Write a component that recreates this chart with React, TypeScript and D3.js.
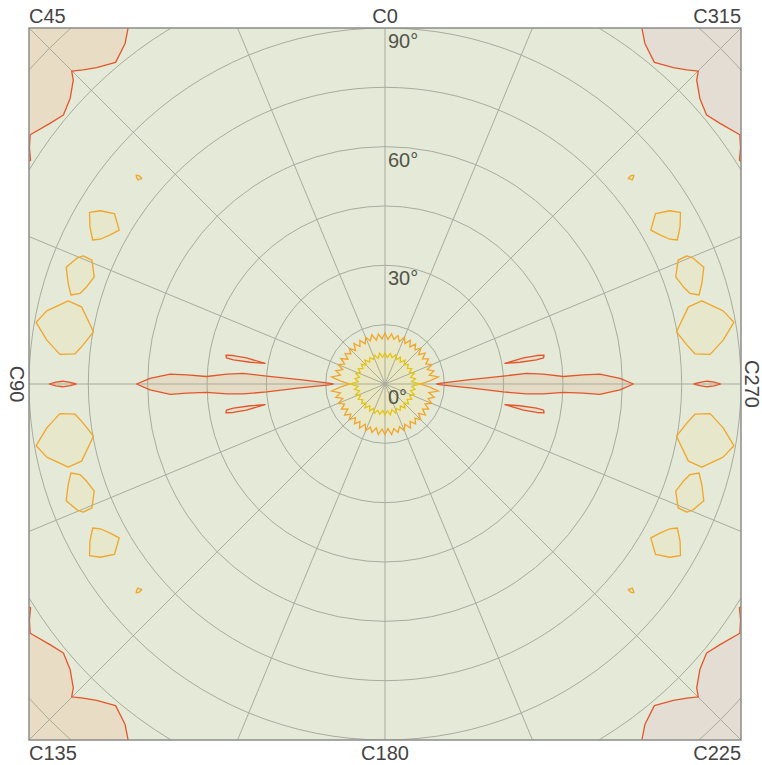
import React from "react";
import * as d3 from "d3";

const W = 762;
const H = 765;
const CX = 385;
const CY = 384;
const R = 356;

// ---- axis / grid data ----
const gammaTickLabels = [0, 30, 60, 90];
const gridGammas = [15, 30, 45, 60, 75, 90, 105, 120];
const gridCAngles = [0, 22.5, 45, 67.5, 90, 112.5, 135, 157.5, 180, 202.5, 225, 247.5, 270, 292.5, 315, 337.5];
const cPlaneLabels = ["C0", "C45", "C90", "C135", "C180", "C225", "C270", "C315"];

// ---- central isolines (gamma in degrees, evenly spaced C-planes) ----
const outerStarGamma = [
  12.9, 11.4, 12.7, 11.3, 12.9, 11.5, 12.8, 11.3, 12.7, 11.4, 12.9, 11.3, 12.8, 11.5, 12.7, 11.3, 12.9, 11.4, 12.8, 11.3, 12.9, 11.5, 13.6, 11.2,
  8.9,
  11.2, 13.6, 11.5, 12.9, 11.3, 12.8, 11.4, 12.7, 11.3, 12.9, 11.5, 12.8, 11.3, 12.7, 11.4, 12.9, 11.3, 12.8, 11.5, 12.7, 11.3, 12.9, 11.4,
  12.8, 11.3, 12.9, 11.5, 12.7, 11.4, 12.8, 11.3, 12.9, 11.4, 12.7, 11.5, 12.8, 11.3, 12.9, 11.4, 12.7, 11.3, 12.8, 11.5, 12.9, 11.3, 13.6, 11.2,
  8.9,
  11.2, 13.6, 11.4, 12.8, 11.3, 12.9, 11.5, 12.7, 11.4, 12.8, 11.3, 12.9, 11.5, 12.7, 11.3, 12.8, 11.4, 12.9, 11.3, 12.7, 11.5, 12.8, 11.3,
];
const innerStarGamma = [
  7.8, 6.8, 7.9, 6.7, 7.8, 6.9, 7.7, 6.8, 7.9, 6.7, 7.8, 6.8, 7.8, 6.9, 7.9, 6.7, 7.7, 6.8, 8.8, 6.8, 7.8, 6.7, 7.9, 6.8, 7.8, 6.9, 7.7, 6.8, 7.9, 6.7, 7.8, 6.8, 7.9, 6.9, 7.8, 6.7,
  7.8, 6.8, 7.9, 6.7, 7.8, 6.9, 7.7, 6.8, 7.9, 6.7, 7.8, 6.8, 7.8, 6.9, 7.9, 6.7, 7.7, 6.8, 8.8, 6.8, 7.8, 6.7, 7.9, 6.8, 7.8, 6.9, 7.7, 6.8, 7.9, 6.7, 7.8, 6.8, 7.9, 6.9, 7.8, 6.7,
];

// ---- isolines in projected degrees [horizontal, vertical] ----
const lobeLeft = [
  [-62.8, 0], [-59.4, 1.4], [-54.3, 2.5], [-50.1, 2.3], [-45.1, 1.9], [-40.0, 2.5], [-35.8, 2.7], [-29.9, 2.0], [-21.5, 1.1], [-14.7, 0.3], [-13.1, 0],
  [-14.7, -0.3], [-21.5, -1.0], [-29.9, -2.0], [-35.8, -2.5], [-40.0, -2.5], [-45.1, -2.1], [-50.1, -2.3], [-54.3, -2.6], [-59.4, -1.5],
];
const lobeRight = [
  [62.8, 0], [59.4, 1.4], [54.3, 2.5], [50.1, 2.3], [45.1, 1.9], [40.0, 2.5], [35.8, 2.7], [29.9, 2.0], [21.5, 1.1], [14.7, 0.3], [13.1, 0],
  [14.7, -0.3], [21.5, -1.0], [29.9, -2.0], [35.8, -2.5], [40.0, -2.5], [45.1, -2.1], [50.1, -2.3], [54.3, -2.6], [59.4, -1.5],
];
const leafUpperLeft = [[-40.2, 7.3], [-38.4, 7.2], [-35.0, 6.6], [-30.3, 5.2], [-34.1, 5.5], [-38.3, 6.1], [-40.1, 6.6]];
const leafLowerLeft = [[-40.2, -7.3], [-38.4, -7.2], [-35.0, -6.6], [-30.3, -5.2], [-34.1, -5.5], [-38.3, -6.1], [-40.1, -6.6]];
const leafUpperRight = [[40.2, 7.3], [38.4, 7.2], [35.0, 6.6], [30.3, 5.2], [34.1, 5.5], [38.3, 6.1], [40.1, 6.6]];
const leafLowerRight = [[40.2, -7.3], [38.4, -7.2], [35.0, -6.6], [30.3, -5.2], [34.1, -5.5], [38.3, -6.1], [40.1, -6.6]];
const lensLeft = [[-84.9, 0], [-83.2, 0.5], [-81.5, 0.7], [-79.6, 0.4], [-78.1, 0], [-79.6, -0.4], [-81.5, -0.7], [-83.2, -0.5]];
const lensRight = [[84.9, 0], [83.2, 0.5], [81.5, 0.7], [79.6, 0.4], [78.1, 0], [79.6, -0.4], [81.5, -0.7], [83.2, -0.5]];

const cornerTopLeft = [
  [-65.0, 93.3], [-65.0, 89.7], [-65.7, 86.1], [-68.1, 81.3], [-72.9, 80.0], [-76.3, 79.4], [-79.2, 79.1], [-78.8, 76.8], [-79.6, 72.2],
  [-81.3, 68.0], [-84.7, 65.9], [-89.7, 63.0], [-89.9, 59.7], [-89.6, 56.6], [-93.5, 54.1], [-100, 100],
];
const cornerBottomLeft = [
  [-65.0, -93.3], [-65.0, -89.7], [-65.7, -86.1], [-68.1, -81.3], [-72.9, -80.0], [-76.3, -79.4], [-79.2, -79.1], [-78.8, -76.8], [-79.6, -72.2],
  [-81.3, -68.0], [-84.7, -65.9], [-89.7, -63.0], [-89.9, -59.7], [-89.6, -56.6], [-93.5, -54.1], [-100, -100],
];
const cornerTopRight = [
  [65.0, 93.3], [65.0, 89.7], [65.7, 86.1], [68.1, 81.3], [72.9, 80.0], [76.3, 79.4], [79.2, 79.1], [78.8, 76.8], [79.6, 72.2],
  [81.3, 68.0], [84.7, 65.9], [89.7, 63.0], [89.9, 59.7], [89.6, 56.6], [93.5, 54.1], [100, 100],
];
const cornerBottomRight = [
  [65.0, -93.3], [65.0, -89.7], [65.7, -86.1], [68.1, -81.3], [72.9, -80.0], [76.3, -79.4], [79.2, -79.1], [78.8, -76.8], [79.6, -72.2],
  [81.3, -68.0], [84.7, -65.9], [89.7, -63.0], [89.9, -59.7], [89.6, -56.6], [93.5, -54.1], [100, -100],
];

const blobA_UL = [[-80.6, 29.5], [-77.9, 31.8], [-76.3, 32.4], [-74.1, 31.3], [-73.5, 27.1], [-75.4, 24.6], [-77.1, 22.9], [-79.4, 22.5], [-80.1, 25.5]];
const blobA_LL = [[-80.6, -29.5], [-77.9, -31.8], [-76.3, -32.4], [-74.1, -31.3], [-73.5, -27.1], [-75.4, -24.6], [-77.1, -22.9], [-79.4, -22.5], [-80.1, -25.5]];
const blobA_UR = [[80.6, 29.5], [77.9, 31.8], [76.3, 32.4], [74.1, 31.3], [73.5, 27.1], [75.4, 24.6], [77.1, 22.9], [79.4, 22.5], [80.1, 25.5]];
const blobA_LR = [[80.6, -29.5], [77.9, -31.8], [76.3, -32.4], [74.1, -31.3], [73.5, -27.1], [75.4, -24.6], [77.1, -22.9], [79.4, -22.5], [80.1, -25.5]];

const blobB_UL = [[-88.2, 15.6], [-85.5, 18.5], [-80.1, 21.0], [-76.7, 19.5], [-73.7, 13.2], [-76.3, 9.9], [-78.4, 7.6], [-82.2, 7.5], [-85.5, 11.1]];
const blobB_LL = [[-88.2, -15.6], [-85.5, -18.5], [-80.1, -21.0], [-76.7, -19.5], [-73.7, -13.2], [-76.3, -9.9], [-78.4, -7.6], [-82.2, -7.5], [-85.5, -11.1]];
const blobB_UR = [[88.2, 15.6], [85.5, 18.5], [80.1, 21.0], [76.7, 19.5], [73.7, 13.2], [76.3, 9.9], [78.4, 7.6], [82.2, 7.5], [85.5, 11.1]];
const blobB_LR = [[88.2, -15.6], [85.5, -18.5], [80.1, -21.0], [76.7, -19.5], [73.7, -13.2], [76.3, -9.9], [78.4, -7.6], [82.2, -7.5], [85.5, -11.1]];

const blobE_UL = [[-74.7, 43.4], [-72.0, 43.8], [-68.4, 43.1], [-67.2, 38.9], [-69.5, 37.7], [-72.0, 36.6], [-73.9, 36.4], [-74.6, 39.8]];
const blobE_LL = [[-74.7, -43.4], [-72.0, -43.8], [-68.4, -43.1], [-67.2, -38.9], [-69.5, -37.7], [-72.0, -36.6], [-73.9, -36.4], [-74.6, -39.8]];
const blobE_UR = [[74.7, 43.4], [72.0, 43.8], [68.4, 43.1], [67.2, 38.9], [69.5, 37.7], [72.0, 36.6], [73.9, 36.4], [74.6, 39.8]];
const blobE_LR = [[74.7, -43.4], [72.0, -43.8], [68.4, -43.1], [67.2, -38.9], [69.5, -37.7], [72.0, -36.6], [73.9, -36.4], [74.6, -39.8]];

const blobF_UL = [[-62.9, 52.8], [-62.1, 52.6], [-61.5, 52.0], [-62.5, 51.6], [-62.8, 52.2]];
const blobF_LL = [[-62.9, -52.8], [-62.1, -52.6], [-61.5, -52.0], [-62.5, -51.6], [-62.8, -52.2]];
const blobF_UR = [[62.9, 52.8], [62.1, 52.6], [61.5, 52.0], [62.5, 51.6], [62.8, 52.2]];
const blobF_LR = [[62.9, -52.8], [62.1, -52.6], [61.5, -52.0], [62.5, -51.6], [62.8, -52.2]];

const RED = "#e2562a";
const ORANGE = "#f0a628";
const YELLOW = "#e5c412";

export default function App() {
  const x = d3.scaleLinear().domain([-90, 90]).range([CX - R, CX + R]);
  const y = d3.scaleLinear().domain([-90, 90]).range([CY + R, CY - R]);
  const r = d3.scaleLinear().domain([0, 90]).range([0, R]);

  const line = d3
    .line<number[]>()
    .x((d) => x(d[0]))
    .y((d) => y(d[1]))
    .curve(d3.curveLinearClosed);

  const radial = d3
    .lineRadial<number[]>()
    .angle((d) => (-d[0] * Math.PI) / 180)
    .radius((d) => r(d[1]))
    .curve(d3.curveLinearClosed);

  const outerStar = outerStarGamma.map((g, i) => [(i * 360) / outerStarGamma.length, g]);
  const innerStar = innerStarGamma.map((g, i) => [(i * 360) / innerStarGamma.length, g]);

  const contours = [
    { pts: cornerTopLeft, stroke: RED, fill: "#e8dcc4" },
    { pts: cornerBottomLeft, stroke: RED, fill: "#e8dcc4" },
    { pts: cornerTopRight, stroke: RED, fill: "#e4ddd4" },
    { pts: cornerBottomRight, stroke: RED, fill: "#e4ddd4" },
    { pts: lobeLeft, stroke: RED, fill: "#e3dbc3" },
    { pts: lobeRight, stroke: RED, fill: "#e3dbc3" },
    { pts: leafUpperLeft, stroke: RED, fill: "#e6e0cf" },
    { pts: leafLowerLeft, stroke: RED, fill: "#e6e0cf" },
    { pts: leafUpperRight, stroke: RED, fill: "#e6e0cf" },
    { pts: leafLowerRight, stroke: RED, fill: "#e6e0cf" },
    { pts: lensLeft, stroke: RED, fill: "#e6e0cf" },
    { pts: lensRight, stroke: RED, fill: "#e6e0cf" },
    { pts: blobA_UL, stroke: ORANGE, fill: "#e7e7cb" },
    { pts: blobA_LL, stroke: ORANGE, fill: "#e7e7cb" },
    { pts: blobA_UR, stroke: ORANGE, fill: "#e7e7cb" },
    { pts: blobA_LR, stroke: ORANGE, fill: "#e7e7cb" },
    { pts: blobB_UL, stroke: ORANGE, fill: "#e7e7cb" },
    { pts: blobB_LL, stroke: ORANGE, fill: "#e7e7cb" },
    { pts: blobB_UR, stroke: ORANGE, fill: "#e7e7cb" },
    { pts: blobB_LR, stroke: ORANGE, fill: "#e7e7cb" },
    { pts: blobE_UL, stroke: ORANGE, fill: "#e7e7cb" },
    { pts: blobE_LL, stroke: ORANGE, fill: "#e7e7cb" },
    { pts: blobE_UR, stroke: ORANGE, fill: "#e7e7cb" },
    { pts: blobE_LR, stroke: ORANGE, fill: "#e7e7cb" },
    { pts: blobF_UL, stroke: ORANGE, fill: "#e7e7cb" },
    { pts: blobF_LL, stroke: ORANGE, fill: "#e7e7cb" },
    { pts: blobF_UR, stroke: ORANGE, fill: "#e7e7cb" },
    { pts: blobF_LR, stroke: ORANGE, fill: "#e7e7cb" },
  ];

  const left = CX - R;
  const top = CY - R;
  const size = 2 * R;

  const labelPos: Record<string, { x: number; y: number; anchor: string; rot: number }> = {
    C0: { x: CX, y: top - 5, anchor: "middle", rot: 0 },
    C45: { x: left, y: top - 5, anchor: "start", rot: 0 },
    C315: { x: left + size, y: top - 5, anchor: "end", rot: 0 },
    C180: { x: CX, y: top + size + 20, anchor: "middle", rot: 0 },
    C135: { x: left, y: top + size + 20, anchor: "start", rot: 0 },
    C225: { x: left + size, y: top + size + 20, anchor: "end", rot: 0 },
    C90: { x: 9.5, y: CY, anchor: "middle", rot: 90 },
    C270: { x: 745, y: CY, anchor: "middle", rot: 90 },
  };

  const font = "'Liberation Sans', Arial, Helvetica, sans-serif";

  return (
    <svg width={W} height={H} style={{ position: "absolute", left: 0, top: 0, background: "#ffffff" }}>
      <defs>
        <clipPath id="frameClip">
          <rect x={left} y={top} width={size} height={size} />
        </clipPath>
      </defs>
      <rect x={left} y={top} width={size} height={size} fill="#e5e9d8" />
      <g clipPath="url(#frameClip)">
        {contours.map((c, i) => (
          <path key={"f" + i} d={line(c.pts) || ""} fill={c.fill} stroke="none" />
        ))}
        <g transform={`translate(${CX},${CY})`}>
          <path d={radial(outerStar) || ""} fill="#e9e8c9" stroke="none" />
          <path d={radial(innerStar) || ""} fill="#e9e7c2" stroke="none" />
        </g>
        {/* grid */}
        {gridGammas.map((g) => (
          <circle key={"c" + g} cx={CX} cy={CY} r={r(g)} fill="none" stroke="#a9ab9c" strokeWidth={1} />
        ))}
        {gridCAngles.map((c) => {
          const a = (c * Math.PI) / 180;
          return (
            <line
              key={"l" + c}
              x1={CX}
              y1={CY}
              x2={CX - r(180) * Math.sin(a)}
              y2={CY - r(180) * Math.cos(a)}
              stroke="#a9ab9c"
              strokeWidth={1}
            />
          );
        })}
        {contours.map((c, i) => (
          <path key={"s" + i} d={line(c.pts) || ""} fill="none" stroke={c.stroke} strokeWidth={1.3} strokeLinejoin="round" />
        ))}
        <g transform={`translate(${CX},${CY})`}>
          <path d={radial(outerStar) || ""} fill="none" stroke={ORANGE} strokeWidth={1.3} />
          <path d={radial(innerStar) || ""} fill="none" stroke={YELLOW} strokeWidth={1.3} />
        </g>
      </g>
      <rect x={left} y={top} width={size} height={size} fill="none" stroke="#8c8c8c" strokeWidth={1.5} />
      {gammaTickLabels.map((g) => (
        <text key={"g" + g} x={CX + 3} y={CY - r(g) + 20} fontFamily={font} fontSize={20} fill="#52564a">
          {g + "°"}
        </text>
      ))}
      {cPlaneLabels.map((t) => {
        const p = labelPos[t];
        return (
          <text
            key={t}
            x={p.x}
            y={p.y}
            textAnchor={p.anchor}
            fontFamily={font}
            fontSize={20}
            fill="#444444"
            transform={p.rot ? `rotate(${p.rot},${p.x},${p.y})` : undefined}
          >
            {t}
          </text>
        );
      })}
    </svg>
  );
}
